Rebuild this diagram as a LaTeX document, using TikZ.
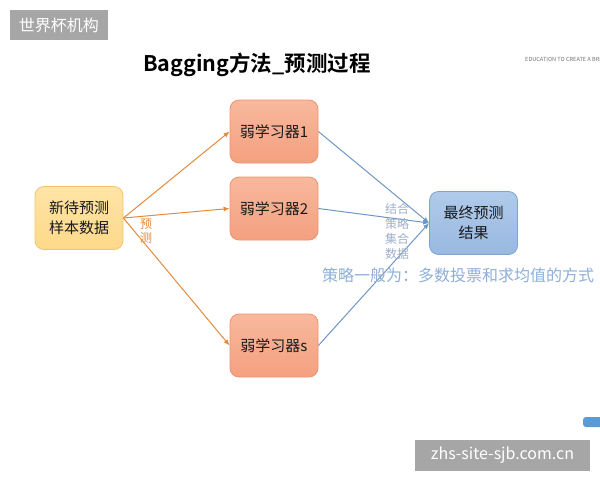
\documentclass[tikz,border=0pt]{standalone}
\usepackage{fontspec}
\setmainfont{Noto Sans CJK SC}
\newfontfamily\cjkb{Noto Sans CJK SC Bold}
\usetikzlibrary{arrows.meta}
\definecolor{srcfill}{HTML}{FDD98A}
\definecolor{srcfilltop}{HTML}{FEE4A6}
\definecolor{srcline}{HTML}{F6C46E}
\definecolor{wkfill}{HTML}{F4A080}
\definecolor{wkfilltop}{HTML}{F8B89C}
\definecolor{wkline}{HTML}{EC9570}
\definecolor{finfill}{HTML}{99B9E0}
\definecolor{finfilltop}{HTML}{B0CAEA}
\definecolor{finline}{HTML}{7FA3D2}
\definecolor{orarrow}{HTML}{E38B3E}
\definecolor{blarrow}{HTML}{6F97C6}
\definecolor{notegrey}{HTML}{9FB0CC}
\definecolor{noteblue}{HTML}{8FAFD8}
\definecolor{wmgrey}{HTML}{A6A6A6}
\definecolor{fragblue}{HTML}{5B9BD5}
\tikzset{
  box/.style={rounded corners=9pt, minimum width=88pt, minimum height=63pt,
    align=center, inner sep=2pt, font=\fontsize{15}{20}\selectfont, text=black!90},
  srcbox/.style={box, draw=srcline, line width=0.8pt, top color=srcfilltop, bottom color=srcfill},
  wkbox/.style={box, draw=wkline, line width=0.8pt, top color=wkfilltop, bottom color=wkfill},
  finbox/.style={box, draw=finline, line width=0.8pt, top color=finfilltop, bottom color=finfill},
  orline/.style={draw=orarrow, line width=1pt, -{Latex[length=6pt,width=5pt]}},
  blline/.style={draw=blarrow, line width=1pt, -{Latex[length=6pt,width=5pt]}},
  wmbox/.style={fill=wmgrey, text=white, inner sep=0pt}
}
\begin{document}
\begin{tikzpicture}[x=1pt,y=-1pt]
\useasboundingbox (0,0) rectangle (600,480);
\fill[white] (0,0) rectangle (600,480);
% watermark top
\node[wmbox, minimum width=98pt, minimum height=30pt, font=\fontsize{16}{16}\selectfont] (wm1) at (59,25) {世界杯机构};
% title
\node[font=\cjkb\fontsize{21.5}{24}\selectfont, text=black] (title) at (257,65) {Bagging方法\_预测过程};
\node[anchor=west, font=\fontsize{5.6}{6}\selectfont, text=black!55, inner sep=0pt] (edu) at (525,59) {EDUCATION TO CREATE A BRI};
% nodes
\node[srcbox] (src) at (79,218) {新待预测\\样本数据};
\node[wkbox] (w1) at (274,131.5) {弱学习器1};
\node[wkbox] (w2) at (274,208.5) {弱学习器2};
\node[wkbox] (ws) at (274,345.5) {弱学习器s};
\node[finbox] (fin) at (473.5,223) {最终预测\\结果};
% connectors
\draw[orline] (src.east) -- (w1.west);
\draw[orline] (src.east) -- (w2.west);
\draw[orline] (src.east) -- (ws.west);
\draw[blline] (w1.east) -- (fin.west);
\draw[blline] (w2.east) -- (fin.west);
\draw[blline] (ws.east) -- (fin.west);
% labels
\node[text=orarrow, font=\fontsize{12}{14}\selectfont, align=center] (yc) at (146,231) {预\\测};
\node[text=notegrey, font=\fontsize{12}{15}\selectfont, align=center] (comb) at (397,231) {结合\\策略\\集合\\数据};
\node[text=noteblue, font=\fontsize{16}{18}\selectfont, anchor=west, inner sep=0pt] (note) at (322,275) {策略一般为：多数投票和求均值的方式};
% bottom right fragment
\fill[fragblue, rounded corners=3pt] (583,417) rectangle (610,427);
% watermark bottom
\node[wmbox, minimum width=175pt, minimum height=31pt, font=\fontsize{16}{16}\selectfont] (wm2) at (502.5,455) {zhs-site-sjb.com.cn};
\end{tikzpicture}
\end{document}
